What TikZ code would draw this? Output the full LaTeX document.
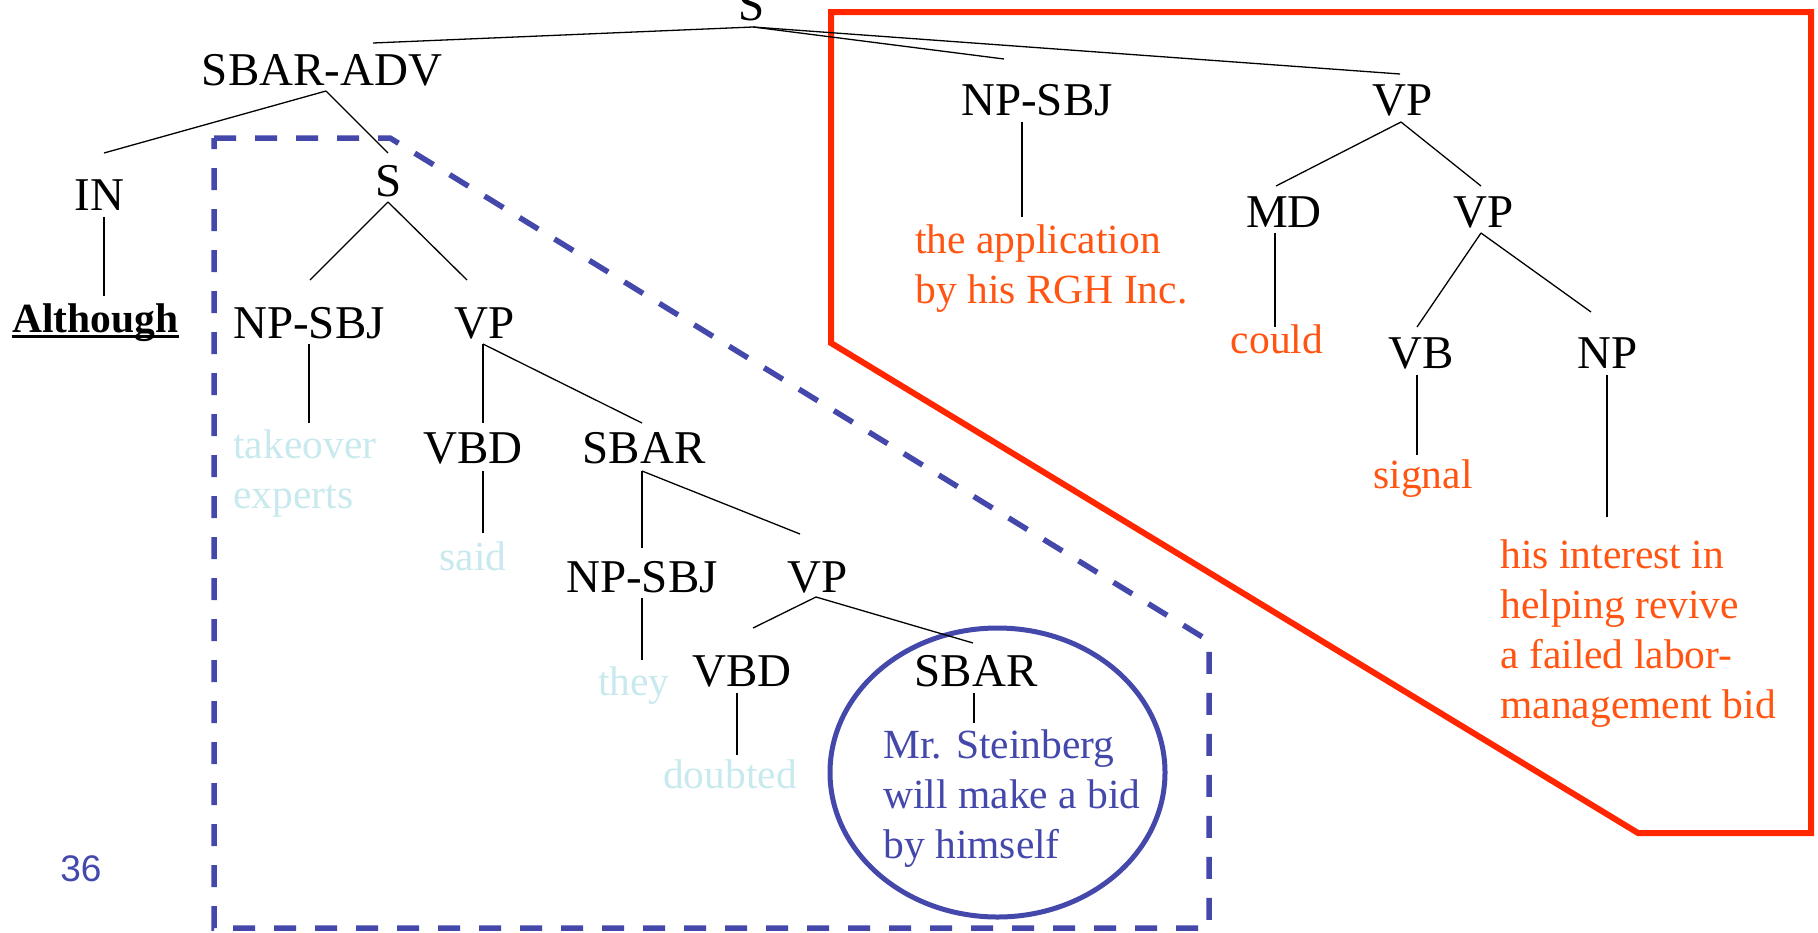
\documentclass[tikz,border=0pt]{standalone}
\usepackage{fontspec}
\setmainfont{Liberation Serif}
\newfontfamily\numfont{Liberation Sans}
\usetikzlibrary{calc}
\definecolor{leafcyan}{RGB}{200,233,237}
\definecolor{leaforange}{RGB}{255,84,18}
\definecolor{markblue}{RGB}{68,72,170}
\definecolor{boxred}{RGB}{255,38,0}
\tikzset{
  lbl/.style={anchor=base, inner sep=0pt, font=\fontsize{23.5pt}{28pt}\selectfont},
  leaf/.style={anchor=base, inner sep=0pt, font=\fontsize{20.75pt}{25pt}\selectfont},
  block/.style={anchor=base west, inner sep=0pt, font=\fontsize{20.75pt}{25pt}\selectfont},
  edge/.style={line width=0.65pt, black},
}
\newcommand{\lines}[1]{\begin{tabular}[t]{@{}l@{}}#1\end{tabular}}
\begin{document}
\begin{tikzpicture}[x=0.5pt, y=-0.5pt]
\useasboundingbox (0,0) rectangle (1818,932);
\clip (0,0) rectangle (1818,932);

% highlighted regions
\draw[boxred, line width=3pt, line join=miter]
  (831,12) -- (1811,12) -- (1811,833) -- (1638,833) -- (831,343) -- cycle;
\draw[markblue, line width=2.75pt, dash pattern=on 11pt off 9.5pt]
  (214,138) -- (390,138) -- (1209,641) -- (1209,928) -- (214,928) -- cycle;
\draw[markblue, line width=2.5pt] (997.5,772.5) ellipse [x radius=83.75pt, y radius=72.25pt];

% tree labels
\node[lbl] (sTop) at (752,20) {S};
\node[lbl] (sbaradv) at (322,85) {SBAR-ADV};
\node[lbl] (inTag) at (99.5,210) {IN};
\node[leaf, font=\fontsize{20.75pt}{25pt}\selectfont\bfseries] (although) at (95.5,332) {Although};
\node[lbl] (sMid) at (389,196) {S};
\node[lbl] (npL) at (309,338) {NP-SBJ};
\node[lbl] (vpL) at (485,338) {VP};
\node[block, text=leafcyan] (takeover) at (233,458) {\lines{takeover\\experts}};
\node[lbl] (vbdL) at (473,463) {VBD};
\node[lbl] (sbarL) at (644,463) {SBAR};
\node[leaf, text=leafcyan] (said) at (473,570) {said};
\node[lbl] (npM) at (642,592) {NP-SBJ};
\node[lbl] (vpM) at (818,592) {VP};
\node[leaf, text=leafcyan] (they) at (634,695) {they};
\node[lbl] (vbdM) at (742,686) {VBD};
\node[lbl] (sbarM) at (976,686) {SBAR};
\node[leaf, text=leafcyan] (doubted) at (730,788) {doubted};
\node[block, text=markblue] (steinberg) at (883,758) {\lines{Mr. Steinberg\\will make a bid\\by himself}};
\node[lbl] (npR) at (1037,115) {NP-SBJ};
\node[block, text=leaforange] (application) at (915,253) {\lines{the application\\by his RGH Inc.}};
\node[lbl] (vpR) at (1403,115) {VP};
\node[lbl] (md) at (1284,227) {MD};
\node[leaf, text=leaforange] (could) at (1277,353) {could};
\node[lbl] (vpRR) at (1484,227) {VP};
\node[lbl] (vb) at (1421,368) {VB};
\node[lbl] (np) at (1608,368) {NP};
\node[leaf, text=leaforange] (signal) at (1423,488) {signal};
\node[block, text=leaforange] (interest) at (1500,568) {\lines{his interest in\\helping revive\\a failed labor-\\management bid}};
\node[anchor=base west, inner sep=0pt, text=markblue, font=\numfont\fontsize{18.5pt}{22pt}\selectfont] (pagenum) at (60,881) {36};

% underline of the head word
\draw[line width=1.5pt] ($(although.base west)+(0,4)$) -- ($(although.base east)+(0,4)$);

% branches
\draw[edge] ($(sTop.base)+(1,7)$) -- ($(sbaradv.base)+(51,-42)$);
\draw[edge] ($(sTop.base)+(1,7)$) -- ($(npR.base)+(-33,-56)$);
\draw[edge] ($(sTop.base)+(1,7)$) -- ($(vpR.base)+(-3,-41)$);
\draw[edge] ($(sbaradv.base)+(4,6)$) -- ($(inTag.base)+(4.5,-57)$);
\draw[edge] ($(sbaradv.base)+(4,6)$) -- ($(sMid.base)+(-1,-43)$);
\draw[edge] ($(inTag.base)+(4.5,7)$) -- ($(although.base)+(8.5,-36)$);
\draw[edge] ($(sMid.base)+(-1,6)$) -- ($(npL.base)+(1,-58)$);
\draw[edge] ($(sMid.base)+(-1,6)$) -- ($(vpL.base)+(-18,-58)$);
\draw[edge] ($(npL.base)+(0,6)$) -- ($(takeover.base west)+(76,-35)$);
\draw[edge] ($(vpL.base)+(-2,6)$) -- ($(vbdL.base)+(10,-40)$);
\draw[edge] ($(vpL.base)+(-2,6)$) -- ($(sbarL.base)+(-2,-40)$);
\draw[edge] ($(vbdL.base)+(10,8)$) -- ($(said.base)+(10,-37)$);
\draw[edge] ($(sbarL.base)+(-2,8)$) -- ($(npM.base)+(0,-44)$);
\draw[edge] ($(sbarL.base)+(-2,8)$) -- ($(vpM.base)+(-18,-58)$);
\draw[edge] ($(npM.base)+(0,6)$) -- ($(they.base)+(8,-35)$);
\draw[edge] ($(vpM.base)+(-2,5)$) -- ($(vbdM.base)+(11,-58)$);
\draw[edge] ($(vpM.base)+(-2,5)$) -- ($(sbarM.base)+(-3,-43)$);
\draw[edge] ($(vbdM.base)+(-5,7)$) -- ($(doubted.base)+(7,-33)$);
\draw[edge] ($(sbarM.base)+(-2,7)$) -- ($(steinberg.base west)+(91,-35)$);
\draw[edge] ($(npR.base)+(-15,7)$) -- ($(application.base west)+(107,-36)$);
\draw[edge] ($(vpR.base)+(-2,7)$) -- ($(md.base)+(-8,-41)$);
\draw[edge] ($(vpR.base)+(-2,7)$) -- ($(vpRR.base)+(-3,-41)$);
\draw[edge] ($(md.base)+(-9,6)$) -- ($(could.base)+(-2,-26)$);
\draw[edge] ($(vpRR.base)+(-3,6)$) -- ($(vb.base)+(-4,-41)$);
\draw[edge] ($(vpRR.base)+(-3,6)$) -- ($(np.base)+(-17,-56)$);
\draw[edge] ($(vb.base)+(-4,7)$) -- ($(signal.base)+(-6,-33)$);
\draw[edge] ($(np.base)+(-1,7)$) -- ($(interest.base west)+(107,-51)$);
\end{tikzpicture}
\end{document}
